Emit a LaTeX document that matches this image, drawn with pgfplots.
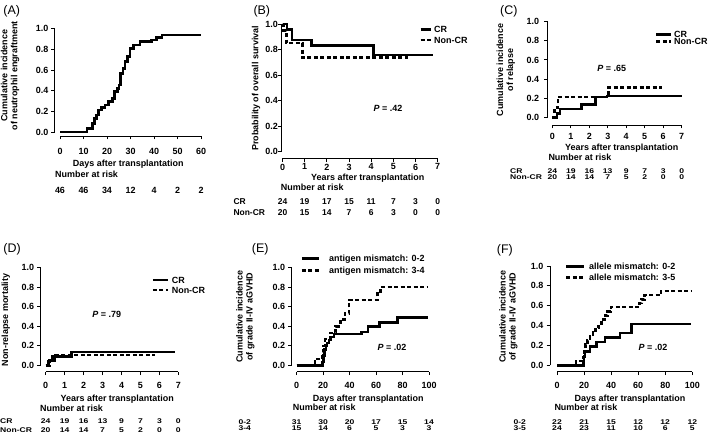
\documentclass[border=0pt]{standalone}
\usepackage{fontspec}
\setmainfont{Liberation Sans}
\usepackage{graphicx}
\usepackage{pgfplots}
\pgfplotsset{compat=1.18}
\newcommand\tl{\fontsize{9}{10}\selectfont\bfseries}
\newcommand\tb{\fontsize{8.5}{9}\selectfont\bfseries}
\newcommand\ts{\fontsize{8.6}{8}\selectfont\bfseries}
\newcommand\sq[1]{\scalebox{1}[0.8]{#1}}
\newcommand\pl{\fontsize{12.5}{14}\selectfont}
\pgfplotsset{
 km/.style={
  anchor=south west,
  axis lines*=left,
  axis line style={draw=none},
  tick align=outside,
  major tick length=3.5bp,
  tick style={black, line width=0.9bp},
  clip=false,
  ticklabel style={font=\tl, inner sep=0bp},
  /pgf/number format/assume math mode=true,
  y tick label style={/pgf/number format/fixed, /pgf/number format/fixed zerofill, /pgf/number format/precision=1},
  ytick={0,0.2,0.4,0.6,0.8,1},
  ymax=1.05,
  legend cell align=left,
  legend style={draw=none, fill=none, inner sep=0pt, outer sep=0pt, font=\tl, at={(0,0)}, anchor=north west,
    nodes={inner sep=0pt, text height=6.5bp, text depth=0pt}},
 },
 sol/.style={black, line width=2.5bp, const plot},
 das/.style={black, line width=2.5bp, const plot, dash pattern=on 4bp off 2.5bp},
}
\begin{document}
\begin{tikzpicture}[x=1bp,y=1bp]
\useasboundingbox (0,0) rectangle (709,436);

% ---------------- (A)
\begin{axis}[km, at={(54.5bp,300bp)}, x=2.35bp, y=103.3bp, xmin=-2.34, xmax=63, ymin=-0.0387,
  xtick={0,10,...,60}, xticklabel style={yshift=-8.1bp}, yticklabel style={xshift=-2.5bp}]
\addplot[sol] coordinates {(0,0)(11.4,0.036)(13.8,0.084)(14.6,0.132)(15.6,0.164)(16.3,0.213)(17.7,0.239)(19.1,0.261)(20.6,0.293)(22.3,0.326)(23.1,0.39)(24.5,0.42)(25.1,0.455)(25.8,0.568)(26.9,0.616)(27.7,0.68)(28.8,0.729)(29.8,0.81)(31.2,0.842)(34,0.875)(39,0.89)(41,0.913)(43.3,0.939)(60,0.939)};
\draw[line width=0.9bp] (axis cs:-2.34,0) -- (axis cs:-2.34,1);
\draw[line width=0.9bp] (axis cs:0,-0.0387) -- (axis cs:60,-0.0387);
\end{axis}

% ---------------- (B)
\begin{axis}[km, at={(281.5bp,277.7bp)}, x=22.17bp, y=127.7bp, xmin=-0.045, xmax=7.3, ymin=-0.0517,
  xtick={0,...,7}, xticklabel style={yshift=-1.8bp}, yticklabel style={xshift=0bp},
  legend style={xshift=137.8bp, yshift=132.25bp, row sep=4.2bp, column sep=1.7bp},
  legend image code/.code={\draw[#1] (0bp,0bp) -- (10.7bp,0bp);}]
\addplot[sol] coordinates {(0,1)(0.2,0.958)(0.42,0.875)(1.31,0.833)(4.1,0.757)(6.8,0.757)};
\addplot[das] coordinates {(0,1)(0.05,0.95)(0.17,0.85)(0.9,0.737)(5.68,0.737)};
\legend{CR,Non-CR}
\draw[line width=0.9bp] (axis cs:-0.045,0) -- (axis cs:-0.045,1);
\draw[line width=0.9bp] (axis cs:0,-0.0517) -- (axis cs:7,-0.0517);
\end{axis}

% ---------------- (C)
\begin{axis}[km, at={(547.5bp,311bp)}, x=18.48bp, y=95.6bp, xmin=-0.26, xmax=7.3, ymin=-0.0805,
  xtick={0,...,7}, xticklabel style={yshift=-4.4bp}, yticklabel style={xshift=-4.7bp},
  legend style={xshift=107.5bp, yshift=93.95bp, row sep=0.9bp, column sep=2.4bp},
  legend image code/.code={\draw[#1] (0bp,0bp) -- (14.3bp,0bp);}]
\addplot[sol] coordinates {(0,0)(0.24,0.042)(0.42,0.087)(1.59,0.135)(2.35,0.21)(2.96,0.222)(7,0.222)};
\addplot[das] coordinates {(0,0)(0.12,0.1)(0.3,0.21)(3.03,0.31)(5.92,0.31)};
\legend{CR,Non-CR}
\draw[line width=0.9bp] (axis cs:-0.26,0) -- (axis cs:-0.26,1);
\draw[line width=0.9bp] (axis cs:0,-0.0805) -- (axis cs:7,-0.0805);
\end{axis}

% ---------------- (D)
\begin{axis}[km, at={(40.7bp,64.3bp)}, x=18.95bp, y=97.6bp, xmin=-0.264, xmax=7.3, ymin=-0.0656,
  xtick={0,...,7}, xticklabel style={yshift=-7.1bp}, yticklabel style={xshift=-3bp},
  legend style={xshift=111bp, yshift=94.95bp, row sep=3.5bp, column sep=2.6bp},
  legend image code/.code={\draw[#1] (0bp,0bp) -- (15bp,0bp);}]
\addplot[sol] coordinates {(0,0)(0.15,0.042)(0.35,0.088)(1.37,0.135)(6.82,0.135)};
\addplot[das] coordinates {(0,0)(0.2,0.05)(0.49,0.105)(5.77,0.105)};
\legend{CR,Non-CR}
\draw[line width=0.9bp] (axis cs:-0.264,0) -- (axis cs:-0.264,1);
\draw[line width=0.9bp] (axis cs:0,-0.0656) -- (axis cs:7,-0.0656);
\end{axis}

% ---------------- (E)
\begin{axis}[km, at={(291.7bp,64.3bp)}, x=1.323bp, y=97.6bp, xmin=-3.78, xmax=103, ymin=-0.0656,
  xtick={0,20,...,100}, xticklabel style={yshift=-7.1bp}, yticklabel style={xshift=-3bp},
  legend style={xshift=9bp, yshift=116.65bp, row sep=5.9bp, column sep=9.4bp},
  legend image code/.code={\draw[#1] (0bp,0bp) -- (16.6bp,0bp);}]
\addplot[sol] coordinates {(0,0)(19.6,0.032)(20.3,0.1)(21,0.16)(22,0.2)(23,0.23)(24.5,0.26)(26,0.29)(28,0.32)(48.8,0.34)(54,0.40)(62.7,0.44)(76,0.49)(99.5,0.49)};
\addplot[das] coordinates {(0,0)(13.8,0.067)(19.6,0.133)(20.3,0.2)(21.5,0.267)(25,0.333)(29.5,0.4)(33,0.467)(36.4,0.533)(39.7,0.667)(60.9,0.733)(63.5,0.8)(99.5,0.8)};
\legend{antigen mismatch: 0-2,antigen mismatch: 3-4}
\draw[line width=0.9bp] (axis cs:-3.78,0) -- (axis cs:-3.78,1);
\draw[line width=0.9bp] (axis cs:0,-0.0656) -- (axis cs:100,-0.0656);
\end{axis}

% ---------------- (F)
\begin{axis}[km, at={(550bp,64.3bp)}, x=1.353bp, y=99.3bp, xmin=-5.17, xmax=103, ymin=-0.0645,
  xtick={0,20,...,100}, xticklabel style={yshift=-7.1bp}, yticklabel style={xshift=-3bp},
  legend style={xshift=15bp, yshift=108.25bp, row sep=4.1bp, column sep=4bp},
  legend image code/.code={\draw[#1] (0bp,0bp) -- (17.7bp,0bp);}]
\addplot[sol] coordinates {(0,0)(19.4,0.045)(20,0.09)(20.6,0.14)(24.4,0.19)(29.3,0.235)(35.5,0.28)(46.6,0.325)(55.2,0.415)(99,0.415)};
\addplot[das] coordinates {(0,0)(14,0.042)(19.6,0.083)(20.2,0.167)(21,0.21)(22.5,0.25)(24.5,0.29)(26.5,0.33)(28.5,0.375)(30.5,0.42)(33,0.46)(35.5,0.5)(37.5,0.54)(40,0.585)(61,0.625)(62.5,0.665)(64.5,0.71)(77,0.75)(99,0.75)};
\legend{allele mismatch: 0-2,allele mismatch: 3-5}
\draw[line width=0.9bp] (axis cs:-5.17,0) -- (axis cs:-5.17,1);
\draw[line width=0.9bp] (axis cs:0,-0.0645) -- (axis cs:100,-0.0645);
\end{axis}

\begin{scope}[every node/.style={inner sep=0pt}]
% panel letters
\node[anchor=base west,font=\pl] at (3.3,421) {(A)};
\node[anchor=base west,font=\pl] at (253.3,421) {(B)};
\node[anchor=base west,font=\pl] at (500,421) {(C)};
\node[anchor=base west,font=\pl] at (3.3,183.3) {(D)};
\node[anchor=base west,font=\pl] at (251.7,183.3) {(E)};
\node[anchor=base west,font=\pl] at (496.7,182.7) {(F)};
% y labels
\node[rotate=90,align=center,font=\tl] at (10,360.3) {Cumulative incidence\\of neutrophil engraftment};
\node[rotate=90,font=\tl] at (256,347.7) {Probability of overall survival};
\node[rotate=90,align=center,font=\tl] at (505.7,366) {Cumulative incidence\\of relapse};
\node[rotate=90,font=\tl] at (5.7,116) {Non-relapse mortality};
\node[rotate=90,align=center,font=\tl] at (245.3,119.3) {Cumulative incidence\\of grade II-IV aGVHD};
\node[rotate=90,align=center,font=\tl] at (508.3,119.3) {Cumulative incidence\\of grade II-IV aGVHD};
% x labels
\node[anchor=base,font=\tl] at (128.3,269.3) {Days after transplantation};
\node[anchor=base,font=\tl] at (367.7,255.5) {Years after transplantation};
\node[anchor=base,font=\tl] at (621.7,285.3) {Years after transplantation};
\node[anchor=base,font=\tl] at (117.2,34) {Years after transplantation};
\node[anchor=base,font=\tl] at (368.3,34.3) {Days after transplantation};
\node[anchor=base,font=\tl] at (630,34) {Days after transplantation};
% number at risk
\node[anchor=base west,font=\tl] at (55,258.7) {Number at risk};
\node[anchor=base west,font=\tl] at (280.7,245.5) {Number at risk};
\node[anchor=base west,font=\tl] at (548.3,275.3) {Number at risk};
\node[anchor=base west,font=\tl] at (40,24.5) {Number at risk};
\node[anchor=base west,font=\tl] at (292.7,25.3) {Number at risk};
\node[anchor=base west,font=\tl] at (554.3,25) {Number at risk};
% A row
\foreach \n [count=\i from 0] in {46,46,34,12,4,2,2} \node[anchor=base,font=\tl] at (60+23.5*\i,242.7) {\n};
% B rows
\node[anchor=base west,font=\tb] at (233.3,231) {CR};
\node[anchor=base west,font=\tb] at (233.3,220) {Non-CR};
\foreach \n [count=\i from 0] in {24,19,17,15,11,7,3,0} \node[anchor=base,font=\tb] at (282.5+22.17*\i,231) {\n};
\foreach \n [count=\i from 0] in {20,15,14,7,6,3,0,0} \node[anchor=base,font=\tb] at (282.5+22.17*\i,220) {\n};
% C rows
\node[anchor=base west,font=\ts] at (510,262) {\sq{CR}};
\node[anchor=base west,font=\ts] at (510,256) {\sq{Non-CR}};
\foreach \n [count=\i from 0] in {24,19,16,13,9,7,3,0} \node[anchor=base,font=\ts] at (552.3+18.48*\i,262) {\sq{\n}};
\foreach \n [count=\i from 0] in {20,14,14,7,5,2,0,0} \node[anchor=base,font=\ts] at (552.3+18.48*\i,256) {\sq{\n}};
% D rows
\node[anchor=base west,font=\ts] at (0,12) {\sq{CR}};
\node[anchor=base west,font=\ts] at (0,3.7) {\sq{Non-CR}};
\foreach \n [count=\i from 0] in {24,19,16,13,9,7,3,0} \node[anchor=base,font=\ts] at (45.7+18.95*\i,12) {\sq{\n}};
\foreach \n [count=\i from 0] in {20,14,14,7,5,2,0,0} \node[anchor=base,font=\ts] at (45.7+18.95*\i,3.7) {\sq{\n}};
% E rows
\node[anchor=base west,font=\ts] at (238.3,11.7) {\sq{0-2}};
\node[anchor=base west,font=\ts] at (238.3,5) {\sq{3-4}};
\foreach \n [count=\i from 0] in {31,30,20,17,15,14} \node[anchor=base,font=\ts] at (296.7+26.46*\i,11.7) {\sq{\n}};
\foreach \n [count=\i from 0] in {15,14,6,5,3,3} \node[anchor=base,font=\ts] at (296.7+26.46*\i,5) {\sq{\n}};
% F rows
\node[anchor=base west,font=\ts] at (513.3,11.7) {\sq{0-2}};
\node[anchor=base west,font=\ts] at (513.3,5) {\sq{3-5}};
\foreach \n [count=\i from 0] in {22,21,15,12,12,12} \node[anchor=base,font=\ts] at (557+27.06*\i,11.7) {\sq{\n}};
\foreach \n [count=\i from 0] in {24,23,11,10,6,5} \node[anchor=base,font=\ts] at (557+27.06*\i,5) {\sq{\n}};
% P values
\node[font=\tl] at (388,327.7) {\textit{P} = .42};
\node[font=\tl] at (611.7,367.7) {\textit{P} = .65};
\node[font=\tl] at (106.7,121.7) {\textit{P} = .79};
\node[font=\tl] at (392,88.3) {\textit{P} = .02};
\node[font=\tl] at (653,88.3) {\textit{P} = .02};
\end{scope}
\end{tikzpicture}
\end{document}
